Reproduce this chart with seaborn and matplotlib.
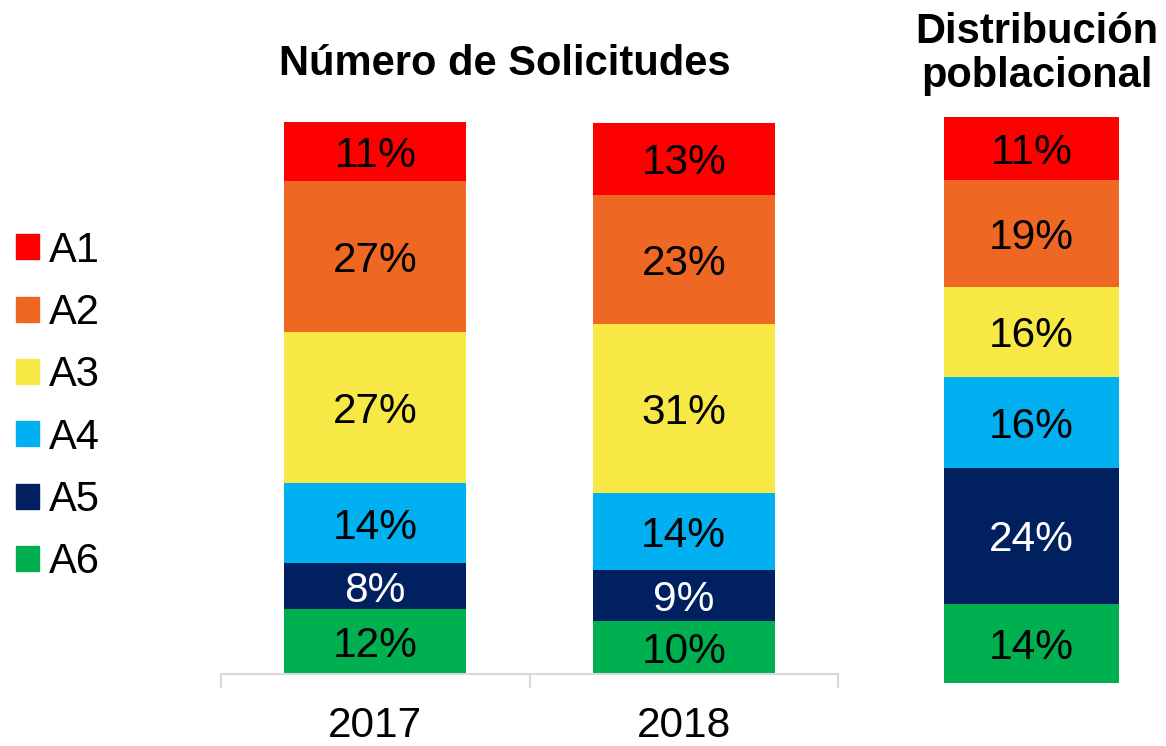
import numpy as np
import pandas as pd
import matplotlib
matplotlib.use("Agg")
import matplotlib.pyplot as plt
import matplotlib.patches as mpatches
import seaborn as sns

# data (shares in %)
groups = ["A1", "A2", "A3", "A4", "A5", "A6"]
years = ["2017", "2018"]
share_2017 = [10.7, 27.4, 27.4, 14.5, 8.3, 11.8]
share_2018 = [13.0, 23.4, 30.6, 14.1, 9.2, 9.6]
labels_2017 = ["11%", "27%", "27%", "14%", "8%", "12%"]
labels_2018 = ["13%", "23%", "31%", "14%", "9%", "10%"]
share_pob = [11.1, 18.9, 15.9, 16.1, 24.0, 14.0]
labels_pob = ["11%", "19%", "16%", "16%", "24%", "14%"]

colors = ["#FF0000", "#EE6723", "#F8E846", "#00B0F0", "#002060", "#00B050"]
text_colors = ["black", "black", "black", "black", "white", "black"]

sns.set_theme(style="white")
plt.rcParams["font.family"] = ["Liberation Sans", "DejaVu Sans"]
plt.rcParams["text.color"] = "black"
plt.rcParams["xtick.color"] = "black"

fig = plt.figure(figsize=(11.66, 7.46), dpi=100)
ax1 = fig.add_axes([221 / 1166, 1 - 674 / 746, 617 / 1166, 552 / 746])
ax2 = fig.add_axes([944 / 1166, 1 - 683 / 746, 175 / 1166, 566 / 746])

# --- stacked bars, 2017 / 2018 ---
df = pd.DataFrame({"A": groups, "2017": share_2017, "2018": share_2018})
vals = df[years].to_numpy()  # rows = groups (top to bottom), cols = years
bottoms = vals[::-1].cumsum(axis=0)[::-1] - vals  # A6 at the bottom, A1 on top
for i, g in enumerate(groups):
    sns.barplot(x=years, y=vals[i], bottom=bottoms[i], color=colors[i],
                width=0.59, saturation=1, linewidth=0, ax=ax1)
    for j, lab in enumerate([labels_2017[i], labels_2018[i]]):
        ax1.text(j, bottoms[i][j] + vals[i][j] / 2, lab, ha="center", va="center_baseline",
                 fontsize=30.5, color=text_colors[i])

ax1.set_xlim(-0.5, 1.5)
ax1.set_ylim(0, vals.sum(axis=0).max())
ax1.set_yticks([])
for s in ["top", "left", "right"]:
    ax1.spines[s].set_visible(False)
ax1.spines["bottom"].set_color("#d9d9d9")
ax1.spines["bottom"].set_linewidth(1.5)
ax1.set_xticks([-0.5, 0.5, 1.5], minor=True)
ax1.tick_params(axis="x", which="minor", bottom=True, length=10, width=1.5,
                color="#d9d9d9", direction="out")
ax1.tick_params(axis="x", which="major", length=0, labelsize=30.5, pad=23,
                labelcolor="black")
ax1.set_xlabel("")
ax1.set_ylabel("")

# --- population distribution bar ---
bot_p = np.cumsum(share_pob[::-1])[::-1] - np.array(share_pob)
for i, g in enumerate(groups):
    sns.barplot(x=["pob"], y=[share_pob[i]], bottom=[bot_p[i]], color=colors[i],
                width=1.0, saturation=1, linewidth=0, ax=ax2)
    ax2.text(0, bot_p[i] + share_pob[i] / 2, labels_pob[i], ha="center", va="center_baseline",
             fontsize=30.5, color=text_colors[i])
ax2.set_xlim(-0.5, 0.5)
ax2.set_ylim(0, sum(share_pob))
ax2.axis("off")

# titles
fig.text(505 / 1166, 1 - 64 / 746, "Número de Solicitudes", ha="center", va="center",
         fontsize=30, fontweight="bold", color="black")
fig.text(1037 / 1166, 1 - 54 / 746, "Distribución\npoblacional", ha="center", va="center",
         fontsize=30, fontweight="bold", linespacing=1.12, color="black")

# legend
handles = [mpatches.Patch(color=c, label=g) for c, g in zip(colors, groups)]
fig.legend(handles=handles, loc="upper left", bbox_to_anchor=(-1 / 1166, 1 - 214 / 746),
           frameon=False, fontsize=30, handlelength=0.55, handleheight=0.55,
           handletextpad=0.25, labelspacing=0.535, borderaxespad=0, labelcolor="black")

fig.savefig("out.png", dpi=100)
